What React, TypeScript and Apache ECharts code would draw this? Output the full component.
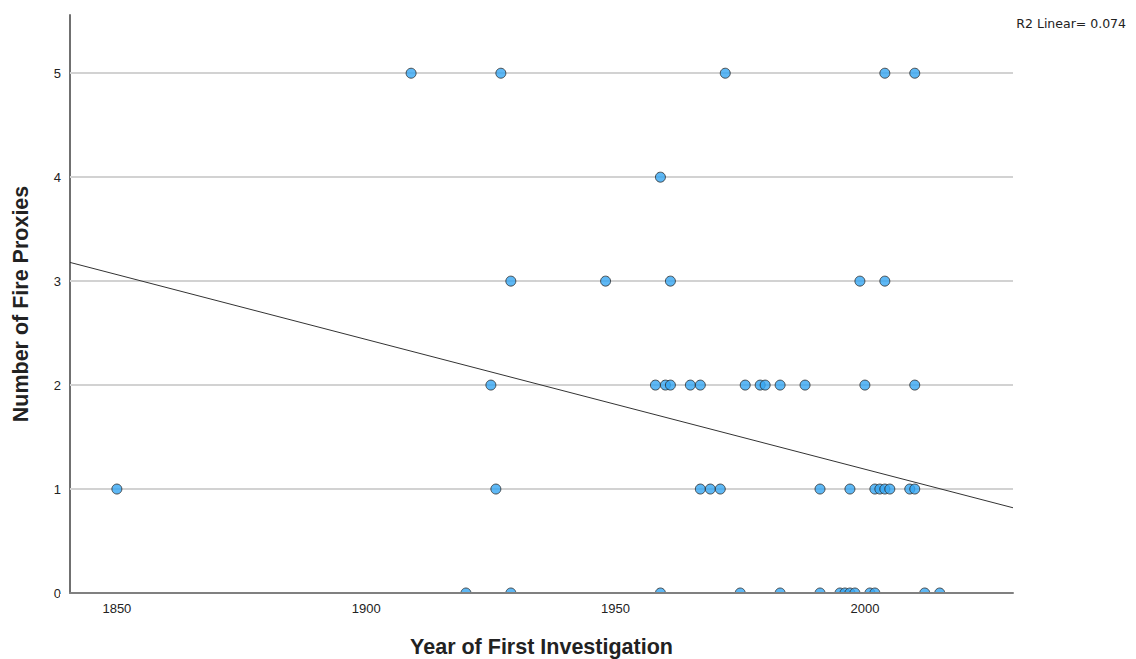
import React, { useEffect, useRef } from "react";
import * as echarts from "echarts";

// Year of first investigation and number of fire proxies, one entry per site
const years0 = [1920, 1929, 1959, 1975, 1983, 1991, 1995, 1996, 1997, 1998, 2001, 2002, 2012, 2015];
const years1 = [1850, 1926, 1967, 1969, 1971, 1991, 1997, 2002, 2003, 2004, 2005, 2009, 2010];
const years2 = [1925, 1958, 1960, 1961, 1965, 1967, 1976, 1979, 1980, 1983, 1988, 2000, 2010];
const years3 = [1929, 1948, 1961, 1999, 2004];
const years4 = [1959];
const years5 = [1909, 1927, 1972, 2004, 2010];

const proxyLevels = [0, 1, 2, 3, 4, 5];
const yearsByLevel = [years0, years1, years2, years3, years4, years5];
const xTicks = [1850, 1900, 1950, 2000];
const xMin = 1840.6;
const xMax = 2029.7;
const yMax = 5.56;

// Linear fit (R² = 0.074), evaluated at both ends of the year axis
const fitYears = [xMin, xMax];
const fitValues = [3.18, 0.82];
const r2Label = "R2 Linear= 0.074";

const points: number[][] = [];
yearsByLevel.forEach((ys, i) => ys.forEach((y) => points.push([y, proxyLevels[i]])));
const fitPoints = fitYears.map((y, i) => [y, fitValues[i]]);

export default function App() {
  const ref = useRef<HTMLDivElement>(null);
  useEffect(() => {
    if (!ref.current) return;
    const chart = echarts.init(ref.current, undefined, { renderer: "svg" });
    const font = "'Liberation Sans', Arial, sans-serif";
    chart.setOption({
      animation: false,
      backgroundColor: "#ffffff",
      grid: { left: 70, right: 123, top: 15, bottom: 66, outerBoundsMode: "none", containLabel: false },
      xAxis: {
        type: "value",
        min: xMin,
        max: xMax,
        z: 10,
        name: "Year of First Investigation",
        nameLocation: "middle",
        nameGap: 43,
        nameTextStyle: { fontFamily: font, fontSize: 21.5, fontWeight: "bold", color: "#222" },
        axisLine: { lineStyle: { color: "#808080", width: 2 } },
        axisTick: { show: false },
        splitLine: { show: false },
        axisLabel: {
          customValues: xTicks,
          formatter: (v: number) => String(v),
          fontFamily: font,
          fontSize: 13,
          color: "#222",
          margin: 9,
        },
      },
      yAxis: {
        type: "value",
        min: 0,
        max: yMax,
        interval: 1,
        name: "Number of Fire Proxies",
        nameLocation: "middle",
        nameGap: 38,
        nameTextStyle: { fontFamily: font, fontSize: 21.5, fontWeight: "bold", color: "#222" },
        axisLine: { show: true, lineStyle: { color: "#707070", width: 2 } },
        axisTick: { show: false },
        splitLine: { show: false },
        axisLabel: {
          customValues: proxyLevels,
          fontFamily: font,
          fontSize: 13,
          color: "#222",
          margin: 9,
        },
      },
      series: [
        {
          type: "line",
          data: fitPoints,
          symbol: "none",
          lineStyle: { color: "#333333", width: 1 },
          silent: true,
          z: 3,
          markLine: {
            silent: true,
            symbol: "none",
            label: { show: false },
            lineStyle: { color: "#d2d2d2", width: 2, type: "solid" },
            data: proxyLevels.slice(1).map((v) => ({ yAxis: v })),
            z: 1,
          },
        },
        {
          type: "scatter",
          data: points,
          symbolSize: 10,
          itemStyle: { color: "#36a6f2", borderColor: "#2a2a2a", borderWidth: 1 },
          z: 4,
        },
      ],
      graphic: [
        {
          // masks the part of the markers that falls below the x axis
          type: "rect",
          left: 60,
          top: 594,
          shape: { width: 970, height: 6 },
          style: { fill: "#ffffff" },
          z: 5,
          silent: true,
        },
        {
          type: "text",
          right: 10,
          top: 17,
          style: { text: r2Label, fontFamily: "'DejaVu Sans', sans-serif", fontSize: 12.5, fill: "#222" },
          z: 6,
        },
      ],
    });
    return () => chart.dispose();
  }, []);
  return (
    <div
      ref={ref}
      style={{ position: "fixed", left: 0, top: 0, width: 1136, height: 659 }}
    />
  );
}
